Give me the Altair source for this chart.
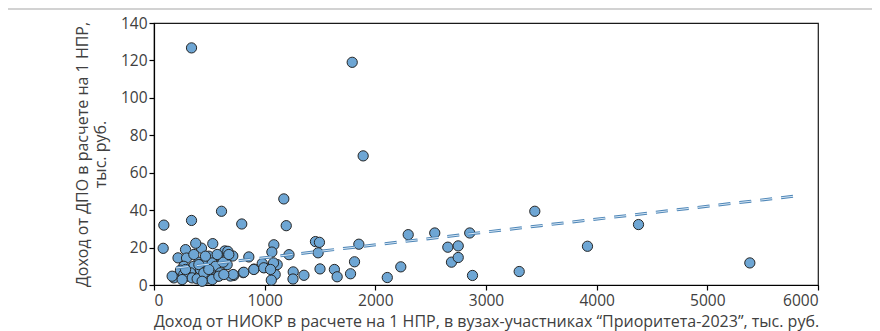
import altair as alt
import pandas as pd

# Data
x_vals = [339, 1791, 1890,
          89, 83, 339, 610, 793, 1173, 1195, 1459, 1495, 1851, 1483, 1220, 1083, 1065,
          1812, 1500, 1630, 1655, 1776, 2108, 2230, 1355, 1258, 1256, 1095, 1060, 1113,
          1080, 995, 978, 904, 857, 806, 721, 691, 712, 640, 667, 577, 531, 429, 377,
          285, 217, 294, 495, 405, 459, 360, 269, 239, 420, 526, 556, 330, 269, 300,
          179, 345, 390, 481, 526, 571, 601, 715, 811, 902, 992, 1053, 661, 625, 164,
          285, 254, 405, 450, 495, 526, 586, 631, 360, 465, 571, 676, 435,
          2297, 2537, 2853, 2655, 2749, 2688, 2749, 2878, 3300, 3441, 3917, 4378, 5384]
y_vals = [126.7, 119, 69,
          32, 19.6, 34.5, 39.4, 32.6, 46, 31.7, 23.2, 22.8, 21.8, 17.2, 16.2, 21.5, 17.6,
          12.4, 8.6, 8.3, 4.4, 6.0, 4.0, 9.7, 5.2, 7.0, 3.2, 5.6, 2.6, 10.9,
          11.8, 9.3, 11.5, 8.5, 15.0, 6.6, 5.1, 4.8, 15.5, 18.2, 18.0, 15.7, 22.1, 19.7, 22.3,
          18.9, 14.5, 14.4, 15.4, 12.2, 12.2, 10.0, 10.0, 7.9, 8.3, 11.8, 10.0, 6.5, 5.6, 4.7,
          3.8, 3.8, 3.3, 3.3, 5.6, 4.7, 6.5, 5.6, 6.8, 8.3, 9.2, 8.3, 10.9, 12.2, 4.7,
          8.3, 2.9, 10.9, 6.5, 8.3, 2.9, 4.7, 5.6, 16.3, 15.4, 16.3, 16.3, 2.0,
          26.9, 27.8, 27.8, 20.2, 20.9, 12.2, 14.7, 5.1, 7.2, 39.4, 20.7, 32.3, 11.8]

trend_x = [200, 5790]
trend_y = [9.1, 47.5]

x_ticks = [0, 1000, 2000, 3000, 4000, 5000, 6000]
y_ticks = [0, 20, 40, 60, 80, 100, 120, 140]

x_title = "Доход от НИОКР в расчете на 1 НПР, в вузах-участниках “Приоритета-2023”, тыс. руб."
y_title = ["Доход от ДПО в расчете на 1 НПР,", "тыс. руб."]

df = pd.DataFrame({"x": x_vals, "y": y_vals})
tdf = pd.DataFrame({"x": trend_x, "y": trend_y})

FONT = "Open Sans"
xscale = alt.Scale(domain=[0, 6000], nice=False, zero=False)
yscale = alt.Scale(domain=[0, 140], nice=False)

x_axis = alt.Axis(values=x_ticks, format="d", grid=False, tickSize=5, tickColor="#000000",
                  domainColor="#000000", domainWidth=1.2, tickWidth=1.2, labelOverlap=False,
                  labelFont=FONT, labelFontSize=15.5, labelColor="#404040", labelPadding=3,
                  title=x_title, titleFont=FONT, titleFontSize=16, titleFontWeight="normal",
                  titleColor="#404040", titlePadding=5)
y_axis = alt.Axis(values=y_ticks, format="d", grid=False, tickSize=5, tickColor="#000000",
                  domainColor="#000000", domainWidth=1.2, tickWidth=1.2, labelOverlap=False,
                  labelFont=FONT, labelFontSize=15.5, labelColor="#404040", labelPadding=2,
                  title=y_title, titleFont=FONT, titleFontSize=16, titleFontWeight="normal",
                  titleColor="#404040", titlePadding=12, titleLineHeight=18)

frame = alt.Chart(pd.DataFrame({"a": [0]})).mark_rect(
    fillOpacity=0, stroke="#a6a6a6", strokeWidth=1.2, clip=False
).encode(x=alt.value(-147), x2=alt.value(900), y=alt.value(-14), y2=alt.value(500))

points = alt.Chart(df).mark_point(
    filled=True, shape="circle", size=105, fill="#6ea6d4", stroke="#262626",
    strokeWidth=1, opacity=1, fillOpacity=1
).encode(
    x=alt.X("x:Q", scale=xscale, axis=x_axis),
    y=alt.Y("y:Q", scale=yscale, axis=y_axis),
)

trend_outer = alt.Chart(tdf).mark_line(
    stroke="#4f87b8", strokeWidth=3, strokeDash=[12, 9]
).encode(x=alt.X("x:Q", scale=xscale, axis=x_axis), y=alt.Y("y:Q", scale=yscale, axis=y_axis))

trend_inner = alt.Chart(tdf).mark_line(
    stroke="#d6e6f4", strokeWidth=1, strokeDash=[12, 9]
).encode(x=alt.X("x:Q", scale=xscale, axis=x_axis), y=alt.Y("y:Q", scale=yscale, axis=y_axis))

chart = alt.layer(frame, points, trend_outer, trend_inner).properties(
    width=664, height=262,
    padding={"left": 146, "top": 15, "right": 54, "bottom": 46},
    autosize=alt.AutoSizeParams(type="none"),
).configure(
    background="white",
    view=alt.ViewConfig(stroke="#1a1a1a", strokeWidth=1.2),
    axis=alt.AxisConfig(labelOverlap=False),
)

chart.save("out.html", embed_options={"renderer": "svg", "actions": False})
